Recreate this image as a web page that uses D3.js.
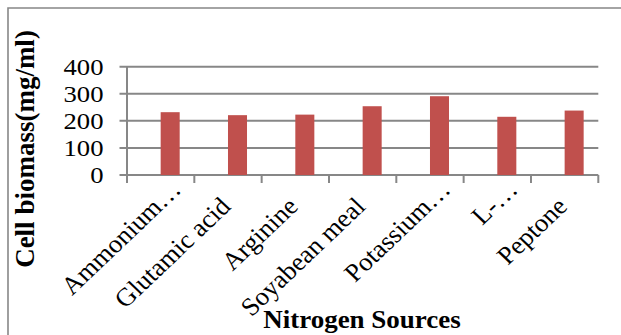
<!DOCTYPE html>
<html>
<head>
<meta charset="utf-8">
<script src="https://cdn.jsdelivr.net/npm/d3@7/dist/d3.min.js"></script>
<style>
  html, body { margin: 0; padding: 0; background: #fff; }
  svg { display: block; }
  text { font-family: "Liberation Serif", "Times New Roman", serif; fill: #000; }
</style>
</head>
<body>
<svg id="chart" width="621" height="335"></svg>
<script>
// Nitrogen source categories (long names are shown truncated, as on the axis)
const categories = ["Ammonium…", "Glutamic acid", "Arginine", "Soyabean meal", "Potassium…", "L-…", "Peptone"];
// Cell biomass (mg/ml) for each nitrogen source
const biomass = [232, 221, 223, 254, 291, 215, 238];
// Two series slots per category; the first one is empty
const seriesNames = ["", "Cell biomass"];
const yTicks = [0, 100, 200, 300, 400];
const yTitle = "Cell biomass(mg/ml)";
const xTitle = "Nitrogen Sources";

const svg = d3.select("#chart");
const W = 621, H = 335;
const plot = { left: 127, right: 598.3, top: 66.7, bottom: 175 };
const gridColor = "#878787";
const stretch = 1.05; // text is set slightly wide

// outer chart frame (top and left edges visible)
svg.append("path")
  .attr("d", `M8,${H} L8,8 L${W},8`)
  .attr("fill", "none")
  .attr("stroke", gridColor)
  .attr("stroke-width", 1.6);

const x0 = d3.scaleBand().domain(categories).range([plot.left, plot.right]).padding(0);
const x1 = d3.scaleBand().domain(seriesNames).range([0, x0.bandwidth()])
  .paddingInner(0).paddingOuter(0.77);
const y = d3.scaleLinear().domain([0, 400]).range([plot.bottom, plot.top]);

// horizontal gridlines + left tick marks
svg.append("g").selectAll("line").data(yTicks).join("line")
  .attr("x1", plot.left - 7.5).attr("x2", plot.right)
  .attr("y1", d => y(d)).attr("y2", d => y(d))
  .attr("stroke", gridColor).attr("stroke-width", 2);

// y tick labels
svg.append("g").selectAll("text").data(yTicks).join("text")
  .attr("transform", d => `translate(103.5,${y(d)}) scale(1.16,1)`)
  .attr("dy", "0.34em")
  .attr("text-anchor", "end")
  .style("font-size", "23px")
  .text(d => d);

// vertical axis line
svg.append("line")
  .attr("x1", plot.left).attr("x2", plot.left)
  .attr("y1", plot.top).attr("y2", plot.bottom + 8)
  .attr("stroke", gridColor).attr("stroke-width", 2);

// category boundary tick marks below the axis
const bounds = categories.map(c => x0(c) + x0.bandwidth());
svg.append("g").selectAll("line").data(bounds).join("line")
  .attr("x1", d => d).attr("x2", d => d)
  .attr("y1", plot.bottom).attr("y2", plot.bottom + 8)
  .attr("stroke", gridColor).attr("stroke-width", 2);

// bars
svg.append("g").selectAll("rect").data(categories).join("rect")
  .attr("x", (c) => x0(c) + x1(seriesNames[1]))
  .attr("width", x1.bandwidth())
  .attr("y", (c, i) => y(biomass[i]))
  .attr("height", (c, i) => y(0) - y(biomass[i]))
  .attr("fill", "#C0504D");

// rotated category labels
svg.append("g").selectAll("text").data(categories).join("text")
  .attr("transform", c => `translate(${x0(c) + x0.bandwidth() / 2 + 4},${plot.bottom + 33}) scale(${stretch},1) rotate(-45)`)
  .attr("x", c => c.endsWith("…") ? 24 : 0)
  .attr("text-anchor", "end")
  .style("font-size", "25.5px")
  .text(c => c);

// axis titles
svg.append("text")
  .attr("transform", `translate(34,149) rotate(-90)`)
  .attr("text-anchor", "middle")
  .style("font-size", "27px")
  .style("font-weight", "bold")
  .text(yTitle);

svg.append("text")
  .attr("transform", `translate(362,328) scale(1.08,1)`)
  .attr("text-anchor", "middle")
  .style("font-size", "25px")
  .style("font-weight", "bold")
  .text(xTitle);
</script>
</body>
</html>
